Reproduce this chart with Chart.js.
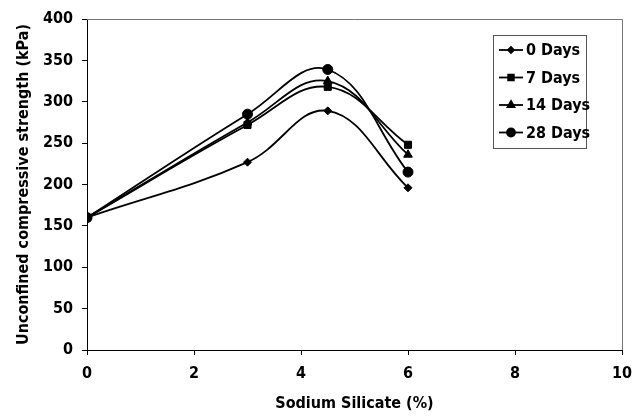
<!DOCTYPE html>
<html>
<head>
<meta charset="utf-8">
<script src="https://cdn.jsdelivr.net/npm/chart.js@4"></script>
<style>
  html, body { margin: 0; padding: 0; background: #fff; }
  #wrap { width: 644px; height: 419px; }
</style>
</head>
<body>
<div id="wrap"><canvas id="myChart" width="644" height="419"></canvas></div>
<script>
// sodium silicate content (%)
var silicate = [0, 3, 4.5, 6];
var days0  = [160, 227, 289, 196];
var days7  = [160, 272, 318, 248];
var days14 = [160, 275, 325, 236];
var days28 = [160, 285, 339, 215];
var seriesNames = ['0 Days', '7 Days', '14 Days', '28 Days'];
var xTicks = [0, 2, 4, 6, 8, 10];

var FONT = '"DejaVu Sans Condensed", "Liberation Sans Narrow", "Liberation Sans", Arial, sans-serif';

function pts(vals) {
  return silicate.map(function (x, i) { return { x: x, y: vals[i] }; });
}

function ds(label, vals, style, r) {
  return {
    label: label,
    data: pts(vals),
    borderColor: '#000',
    backgroundColor: '#000',
    borderWidth: 1.8,
    pointStyle: style,
    pointRadius: r,
    pointBorderWidth: 1,
    tension: 0.4,
    fill: false
  };
}

// legend box drawn inside the plot, like the original
var boxLegend = {
  id: 'boxLegend',
  afterDraw: function (chart) {
    var c = chart.ctx;
    var x0 = 493, y0 = 35, w = 93, h = 113;
    c.save();
    c.fillStyle = '#fff';
    c.fillRect(x0, y0, w, h);
    c.strokeStyle = '#555';
    c.lineWidth = 1;
    c.strokeRect(x0 + 0.5, y0 + 0.5, w, h);
    c.font = 'bold 16px ' + FONT;
    c.textBaseline = 'middle';
    chart.data.datasets.forEach(function (d, i) {
      var yy = y0 + 15 + i * 27.5;
      c.strokeStyle = '#000';
      c.fillStyle = '#000';
      c.lineWidth = 1.8;
      c.beginPath();
      c.moveTo(x0 + 6, yy);
      c.lineTo(x0 + 30, yy);
      c.stroke();
      Chart.helpers.drawPoint(c, { pointStyle: d.pointStyle, radius: d.pointRadius - 1, borderWidth: 1 }, x0 + 18, yy);
      c.fillStyle = '#000';
      c.fillText(seriesNames[i], x0 + 33, yy + 1);
    });
    c.restore();
  }
};

// grey frame on top and right of plot area
var frame = {
  id: 'frame',
  beforeDatasetsDraw: function (chart) {
    var a = chart.chartArea, c = chart.ctx;
    c.save();
    c.strokeStyle = '#777';
    c.lineWidth = 1;
    c.beginPath();
    c.moveTo(a.left, a.top + 0.5);
    c.lineTo(a.right + 0.5, a.top + 0.5);
    c.lineTo(a.right + 0.5, a.bottom);
    c.stroke();
    c.restore();
  }
};

var ctx = document.getElementById('myChart').getContext('2d');
var myChart = new Chart(ctx, {
  type: 'line',
  data: {
    datasets: [
      ds(seriesNames[0], days0, 'rectRot', 4),
      ds(seriesNames[1], days7, 'rect', 5),
      ds(seriesNames[2], days14, 'triangle', 5),
      ds(seriesNames[3], days28, 'circle', 5)
    ]
  },
  options: {
    responsive: false,
    animation: false,
    layout: { padding: { left: 10, right: 22, top: 19, bottom: 2 } },
    plugins: {
      legend: { display: false },
      tooltip: { enabled: false }
    },
    scales: {
      x: {
        type: 'linear',
        min: 0,
        max: 10,
        afterBuildTicks: function (s) { s.ticks = xTicks.map(function (v) { return { value: v }; }); },
        afterFit: function (s) { s.height = 67; },
        grid: { drawOnChartArea: false, tickLength: 5, color: '#000' },
        border: { color: '#000', width: 1 },
        ticks: { color: '#000', font: { family: FONT, size: 16, weight: 'bold' }, padding: 9, maxRotation: 0 },
        title: { display: true, text: 'Sodium Silicate (%)', color: '#000', font: { family: FONT, size: 16, weight: 'bold' }, padding: { top: 8 } }
      },
      y: {
        min: 0,
        max: 400,
        ticks: { stepSize: 50, color: '#000', font: { family: FONT, size: 16, weight: 'bold' }, padding: 9 },
        afterFit: function (s) { s.width = 77; },
        grid: { drawOnChartArea: false, tickLength: 5, color: '#000' },
        border: { color: '#000', width: 1 },
        title: { display: true, text: 'Unconfined compressive strength (kPa)', color: '#000', font: { family: FONT, size: 16, weight: 'bold' }, padding: { bottom: 2 } }
      }
    }
  },
  plugins: [frame, boxLegend]
});
</script>
</body>
</html>
